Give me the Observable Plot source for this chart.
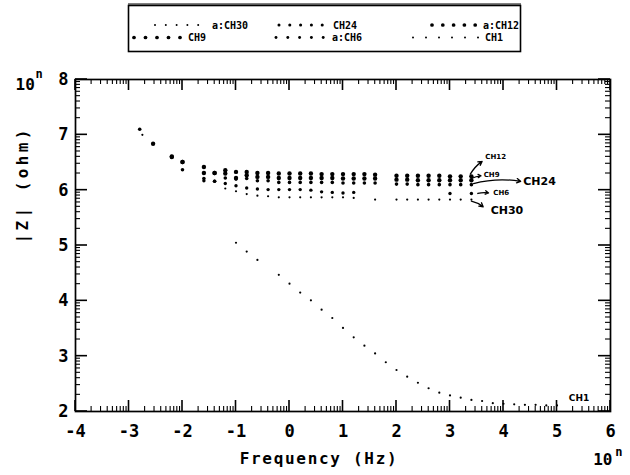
<!DOCTYPE html>
<html><head><meta charset="utf-8">
<script src="https://cdn.jsdelivr.net/npm/d3@7"></script>
<script src="https://cdn.jsdelivr.net/npm/@observablehq/plot@0.6"></script>
<style>
body{margin:0;background:#fff;}
#wrap{width:630px;height:475px;position:relative;overflow:hidden;}
#wrap svg{display:block;}
</style></head><body><div id="wrap"></div>
<script>
// ---- tick labels (exponents, 10^n) ----
const xTicks = [-4,-3,-2,-1,0,1,2,3,4,5,6];
const xTickLabels = ["-4","-3","-2","-1","0","1","2","3","4","5","6"];
const yTicks = [2,3,4,5,6,7,8];
const yTickLabels = ["2","3","4","5","6","7","8"];

// ---- series: log10 frequency (Hz) and log10 |Z| (ohm) ----
const ch12Freq = [-2.55,-2.2,-2.0,-1.6,-1.4,-1.2,-1.0,-0.8,-0.6,-0.4,-0.2,0,0.2,0.4,0.6,0.8,1.0,1.2,1.4,1.6,2.0,2.2,2.4,2.6,2.8,3.0,3.2,3.4];
const ch12Z    = [6.84,6.61,6.51,6.42,6.31,6.36,6.33,6.33,6.31,6.31,6.30,6.30,6.30,6.30,6.29,6.29,6.29,6.29,6.29,6.28,6.26,6.26,6.26,6.26,6.26,6.25,6.25,6.25];

const ch9Freq = [-2.2,-2.0,-1.6,-1.4,-1.2,-1.0,-0.8,-0.6,-0.4,-0.2,0,0.2,0.4,0.6,0.8,1.0,1.2,1.4,1.6,2.0,2.2,2.4,2.6,2.8,3.0,3.2,3.4];
const ch9Z    = [6.60,6.51,6.31,6.31,6.30,6.22,6.27,6.24,6.24,6.22,6.22,6.22,6.22,6.22,6.22,6.21,6.21,6.21,6.21,6.19,6.19,6.18,6.18,6.18,6.18,6.18,6.18];

const ch24Freq = [-2.8,-2.0,-1.6,-1.4,-1.2,-1.0,-0.8,-0.6,-0.4,-0.2,0,0.2,0.4,0.6,0.8,1.0,1.2,1.4,1.6,2.0,2.2,2.4,2.6,2.8,3.0,3.2,3.4];
const ch24Z    = [7.10,6.37,6.21,6.16,6.22,6.20,6.21,6.17,6.17,6.14,6.14,6.14,6.14,6.14,6.14,6.13,6.13,6.13,6.13,6.11,6.11,6.10,6.10,6.10,6.10,6.10,6.10];

const ch6Freq = [-1.6,-1.4,-1.2,-1.0,-0.8,-0.6,-0.4,-0.2,0,0.2,0.4,0.6,0.8,1.0,1.2,3.0,3.4];
const ch6Z    = [6.17,6.16,6.12,6.08,6.04,6.02,6.01,6.01,6.01,6.01,6.00,5.97,5.96,5.95,5.96,5.94,5.94];

const ch30Freq = [-2.75,-1.2,-1.0,-0.8,-0.6,-0.4,-0.2,0,0.2,0.4,0.6,0.8,1.0,1.2,1.6,2.0,2.2,2.4,2.6,2.8,3.0,3.2,3.4];
const ch30Z    = [7.00,6.03,5.98,5.93,5.90,5.89,5.87,5.87,5.87,5.87,5.87,5.87,5.87,5.86,5.83,5.83,5.83,5.83,5.83,5.83,5.83,5.83,5.83];

const ch1Freq = [-1.0,-0.8,-0.6,-0.2,0,0.2,0.4,0.6,0.8,1.0,1.2,1.4,1.6,1.8,2.0,2.2,2.4,2.6,2.8,3.0,3.2,3.4,3.6,3.8,4.0,4.2,4.4,4.6,4.8,5.0];
const ch1Z    = [5.05,4.89,4.74,4.47,4.31,4.15,4.01,3.84,3.69,3.51,3.34,3.19,3.05,2.89,2.75,2.63,2.52,2.42,2.34,2.29,2.25,2.21,2.19,2.15,2.14,2.13,2.12,2.12,2.11,2.11];

const seriesNames = ["a:CH30","CH24","a:CH12","CH9","a:CH6","CH1"];

// ---- annotations (data space) ----
const annotText = ["CH12","CH9","CH24","CH6","CH30","CH1"];
const annotX    = [3.66, 3.63, 4.37, 3.81, 3.76, 5.22];
const annotY    = [6.60, 6.28, 6.16, 5.96, 5.63, 2.24];
const annotSize = [7, 7, 11, 7, 11, 9];
const arrowX1 = [3.38, 3.40, 3.44, 3.52, 3.40];
const arrowY1 = [6.29, 6.21, 6.12, 5.94, 5.80];
const arrowX2 = [3.60, 3.58, 4.32, 3.72, 3.62];
const arrowY2 = [6.52, 6.26, 6.16, 5.95, 5.70];

// ---- build tables ----
const series = [
  {name: "a:CH30", freq: ch30Freq, z: ch30Z, r: 1.1},
  {name: "CH24",   freq: ch24Freq, z: ch24Z, r: 1.8},
  {name: "a:CH12", freq: ch12Freq, z: ch12Z, r: 2.2},
  {name: "CH9",    freq: ch9Freq,  z: ch9Z,  r: 2.2},
  {name: "a:CH6",  freq: ch6Freq,  z: ch6Z,  r: 1.7},
  {name: "CH1",    freq: ch1Freq,  z: ch1Z,  r: 1.1}
];
const annots = annotText.map((t, i) => ({t, x: annotX[i], y: annotY[i], s: annotSize[i]}));
const arrows = arrowX1.map((x1, i) => ({x1, y1: arrowY1[i], x2: arrowX2[i], y2: arrowY2[i]}));

const xDomain = [-4, 6], yDomain = [2, 8];
const xMinor = d3.range(-4, 6).flatMap(n => d3.range(2, 10).map(k => n + Math.log10(k)));
const yMinor = d3.range(2, 8).flatMap(n => d3.range(2, 10).map(k => n + Math.log10(k)));

const W = 630, H = 420, mL = 75, mR = 20, mT = 24, mB = 64;
const MONO = "DejaVu Sans Mono";

// ---- legend (above the plot) ----
const wrap = d3.select("#wrap");
const leg = wrap.append("svg").attr("width", 630).attr("height", 55);
leg.append("rect").attr("x", 128.5).attr("y", 5.5).attr("width", 392).attr("height", 46)
  .attr("fill", "none").attr("stroke", "black").attr("stroke-width", 1.6);
leg.append("line").attr("x1", 128).attr("x2", 521).attr("y1", 4).attr("y2", 4).attr("stroke", "black").attr("stroke-width", 1);
const legLayout = [
  {row: 0, dotX: 155, step: 10.8, n: 5, textX: 212},
  {row: 0, dotX: 279, step: 10.8, n: 5, textX: 333},
  {row: 0, dotX: 432, step: 10.8, n: 5, textX: 483},
  {row: 1, dotX: 134, step: 11.5, n: 5, textX: 188},
  {row: 1, dotX: 276, step: 11.8, n: 5, textX: 332},
  {row: 1, dotX: 413, step: 13, n: 6, textX: 485}
];
series.forEach((s, i) => {
  const L = legLayout[i];
  const cy = L.row === 0 ? 25 : 37.5;
  for (let j = 0; j < L.n; j++) {
    leg.append("circle").attr("cx", L.dotX + j * L.step).attr("cy", cy).attr("r", Math.max(1, s.r * 0.85)).attr("fill", "black");
  }
  leg.append("text").attr("x", L.textX).attr("y", cy).attr("dy", "0.35em")
    .attr("font-family", MONO).attr("font-weight", "bold").attr("font-size", 10)
    .text(seriesNames[i]);
});

// ---- plot ----
const plot = Plot.plot({
  width: W, height: H,
  marginLeft: mL, marginRight: mR, marginTop: mT, marginBottom: mB,
  x: {domain: xDomain},
  y: {domain: yDomain},
  style: {background: "white", color: "black", fontFamily: MONO, overflow: "visible"},
  marks: [
    Plot.frame({stroke: "black", strokeWidth: 1.7}),
    Plot.axisX({ticks: xTicks, tickSize: 0, tickPadding: 13, label: null,
      tickFormat: d => xTickLabels[xTicks.indexOf(d)], fontSize: 17, fontWeight: "bold"}),
    Plot.axisY({ticks: yTicks, tickSize: 0, tickPadding: 7, label: null,
      tickFormat: d => yTickLabels[yTicks.indexOf(d)], fontSize: 17, fontWeight: "bold"}),
    Plot.text(["|Z| (ohm)"], {frameAnchor: "left", dx: -53, dy: -2, rotate: -90, fontSize: 16, fontWeight: "bold"}),
    Plot.text(["Frequency (Hz)"], {frameAnchor: "bottom", dx: -24, dy: 52, fontSize: 16, fontWeight: "bold"}),
    Plot.text(["10"], {frameAnchor: "top-left", dx: -60, dy: -1, fontSize: 16, fontWeight: "bold"}),
    Plot.text(["n"], {frameAnchor: "top-left", dx: -40, dy: -10, fontSize: 12, fontWeight: "bold"}),
    Plot.text(["10"], {frameAnchor: "bottom-right", dx: 2, dy: 53, fontSize: 16, fontWeight: "bold"}),
    Plot.text(["n"], {frameAnchor: "bottom-right", dx: 12, dy: 44, fontSize: 12, fontWeight: "bold"}),
    ...series.map(s => Plot.dot(s.freq.map((f, i) => ({f, z: s.z[i]})), {x: "f", y: "z", r: s.r, fill: "black", stroke: "none"})),
    Plot.arrow(arrows, {x1: "x1", y1: "y1", x2: "x2", y2: "y2", bend: 12, headLength: 5, stroke: "black", strokeWidth: 1.3}),
    ...[7, 9, 11].map(sz => Plot.text(annots.filter(a => a.s === sz), {x: "x", y: "y", text: "t", textAnchor: "start",
      fontSize: sz, fontWeight: "bold", fontFamily: "DejaVu Sans", fill: "black"}))
  ]
});
wrap.node().appendChild(plot);

// ---- inward log ticks on all four sides, placed with the plot's own scales ----
const sx = plot.scale("x"), sy = plot.scale("y");
const X = v => sx.apply(v), Y = v => sy.apply(v);
const xl = X(xDomain[0]), xr = X(xDomain[1]), yb = Y(yDomain[0]), yt = Y(yDomain[1]);
const tg = d3.select(plot).append("g").attr("stroke", "black").attr("stroke-linecap", "butt");
const addX = (vals, len, sw) => vals.forEach(v => {
  tg.append("line").attr("x1", X(v)).attr("x2", X(v)).attr("y1", yb).attr("y2", yb - len).attr("stroke-width", sw);
  tg.append("line").attr("x1", X(v)).attr("x2", X(v)).attr("y1", yt).attr("y2", yt + len).attr("stroke-width", sw);
});
const addY = (vals, len, sw) => vals.forEach(v => {
  tg.append("line").attr("y1", Y(v)).attr("y2", Y(v)).attr("x1", xl).attr("x2", xl + len).attr("stroke-width", sw);
  tg.append("line").attr("y1", Y(v)).attr("y2", Y(v)).attr("x1", xr).attr("x2", xr - len).attr("stroke-width", sw);
});
addX(xMinor, 5, 1.1); addX(xTicks, 11, 1.6);
addY(yMinor, 5, 1.1); addY(yTicks, 12, 1.6);

// letter spacing of axis titles (plotter lettering is widely spaced)
d3.select(plot).selectAll("text").each(function () {
  const t = this.textContent;
  if (t === "Frequency (Hz)") this.style.letterSpacing = "1.7px";
  if (t === "|Z| (ohm)") this.style.letterSpacing = "3.4px";
});
</script></body></html>
